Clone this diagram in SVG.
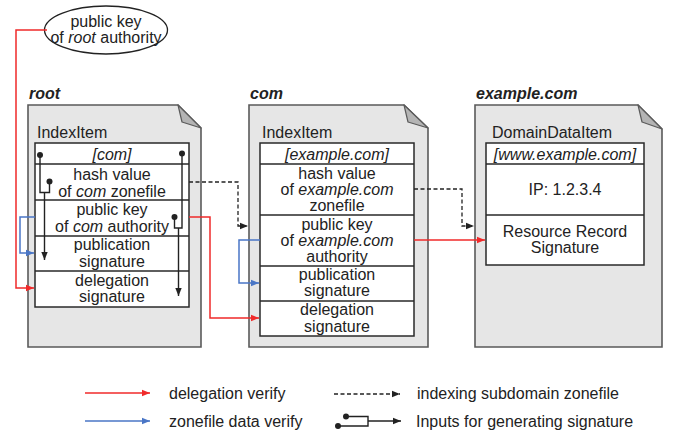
<svg xmlns="http://www.w3.org/2000/svg" width="675" height="436" viewBox="0 0 675 436">
  <defs>
    <marker id="arrow-black" markerUnits="userSpaceOnUse" markerWidth="9" markerHeight="8" refX="8" refY="4" orient="auto">
      <path d="M0,0.8 L8,4 L0,7.2 Z" fill="#222"/>
    </marker>
    <marker id="arrow-red" markerUnits="userSpaceOnUse" markerWidth="9" markerHeight="8" refX="8" refY="4" orient="auto">
      <path d="M0,0.8 L8,4 L0,7.2 Z" fill="#f02a2a"/>
    </marker>
    <marker id="arrow-blue" markerUnits="userSpaceOnUse" markerWidth="9" markerHeight="8" refX="8" refY="4" orient="auto">
      <path d="M0,0.8 L8,4 L0,7.2 Z" fill="#4a76c6"/>
    </marker>
  </defs>
  <style>
    text { font-family: "Liberation Sans", Arial, sans-serif; font-size: 16px; fill: #222; }
    .c { text-anchor: middle; }
    .title { font-weight: bold; font-style: italic; }
    .it { font-style: italic; }
    .doc { fill: #e6e6e6; stroke: #5a5a5a; stroke-width: 1.6; }
    .flap { fill: #b4b4b4; stroke: #5a5a5a; stroke-width: 1.2; stroke-linejoin: round; }
    .tbl { fill: #fff; stroke: #2a2a2a; stroke-width: 1.5; }
    .row { stroke: #2a2a2a; stroke-width: 1.5; }
    .red { fill: none; stroke: #f02a2a; stroke-width: 1.5; marker-end: url(#arrow-red); }
    .blue { fill: none; stroke: #4a76c6; stroke-width: 1.5; marker-end: url(#arrow-blue); }
    .dash { fill: none; stroke: #222; stroke-width: 1.3; stroke-dasharray: 4 2.5; marker-end: url(#arrow-black); }
    .inp { fill: none; stroke: #222; stroke-width: 1.4; }
    .inpa { fill: none; stroke: #222; stroke-width: 1.4; marker-end: url(#arrow-black); }
    .dot { fill: #222; }
  </style>

  <!-- trust anchor -->
  <g id="root-key">
    <ellipse cx="106" cy="30" rx="61.5" ry="24" fill="#fff" stroke="#222" stroke-width="1.3"/>
    <text class="c" x="106" y="27">public key</text>
    <text class="c" x="106" y="43">of <tspan class="it">root</tspan> authority</text>
  </g>

  <!-- root zone document -->
  <g id="root">
    <text class="title" x="29" y="99">root</text>
    <path class="doc" d="M28,105 H178 L201,128 V347 H28 Z"/>
    <path class="flap" d="M178,105 L182,122 L201,128 Z"/>
    <text x="37" y="138">IndexItem</text>
    <rect class="tbl" x="35" y="143" width="154" height="164"/>
    <path class="row" d="M35,164 H189 M35,200 H189 M35,236 H189 M35,271 H189"/>
    <text class="c it" x="112" y="160">[com]</text>
    <text class="c" x="112" y="180">hash value</text>
    <text class="c" x="112" y="197">of <tspan class="it">com</tspan> zonefile</text>
    <text class="c" x="112" y="215">public key</text>
    <text class="c" x="112" y="232">of <tspan class="it">com</tspan> authority</text>
    <text class="c" x="112" y="250">publication</text>
    <text class="c" x="112" y="267">signature</text>
    <text class="c" x="112" y="286">delegation</text>
    <text class="c" x="112" y="302">signature</text>
  </g>

  <!-- com zone document -->
  <g id="com">
    <text class="title" x="250" y="99">com</text>
    <path class="doc" d="M249,105 H404 L428,128 V347 H249 Z"/>
    <path class="flap" d="M404,105 L408,122 L428,128 Z"/>
    <text x="262" y="138">IndexItem</text>
    <rect class="tbl" x="260" y="143" width="154" height="193"/>
    <path class="row" d="M260,164 H414 M260,215 H414 M260,266 H414 M260,301 H414"/>
    <text class="c it" x="337" y="160">[example.com]</text>
    <text class="c" x="337" y="179">hash value</text>
    <text class="c" x="337" y="195">of <tspan class="it">example.com</tspan></text>
    <text class="c" x="337" y="211">zonefile</text>
    <text class="c" x="337" y="230">public key</text>
    <text class="c" x="337" y="246">of <tspan class="it">example.com</tspan></text>
    <text class="c" x="337" y="262">authority</text>
    <text class="c" x="337" y="280">publication</text>
    <text class="c" x="337" y="296">signature</text>
    <text class="c" x="337" y="315">delegation</text>
    <text class="c" x="337" y="332">signature</text>
  </g>

  <!-- example.com zone document -->
  <g id="example-com">
    <text class="title" x="476" y="99">example.com</text>
    <path class="doc" d="M475,105 H638 L662,129 V347 H475 Z"/>
    <path class="flap" d="M638,105 L642,122 L662,129 Z"/>
    <text x="492" y="138">DomainDataItem</text>
    <rect class="tbl" x="486" y="143" width="158" height="122"/>
    <path class="row" d="M486,164 H644 M486,215 H644"/>
    <text class="c it" x="565" y="160">[www.example.com]</text>
    <text class="c" x="565" y="195">IP: 1.2.3.4</text>
    <text class="c" x="565" y="237">Resource Record</text>
    <text class="c" x="565" y="253">Signature</text>
  </g>

  <!-- connectors -->
  <g id="connectors">
    <!-- delegation verify -->
    <path class="red" d="M47,30 H16 V288 H34"/>
    <path class="red" d="M189,217 H210 V318 H259"/>
    <path class="red" d="M414,240 H485"/>
    <!-- zonefile data verify -->
    <path class="blue" d="M35,217 H20 V253 H34"/>
    <path class="blue" d="M260,240 H239 V283 H259"/>
    <!-- indexing subdomain zonefile -->
    <path class="dash" d="M189,182 H238 V226 H248"/>
    <path class="dash" d="M414,189 H462 V226 H474"/>
    <!-- signature inputs: publication signature -->
    <circle class="dot" cx="40" cy="155" r="3"/>
    <circle class="dot" cx="49.5" cy="181.5" r="3"/>
    <path class="inp" d="M40,155 V192.5 H49.5 V181.5"/>
    <path class="inpa" d="M44.5,192.5 V260"/>
    <!-- signature inputs: delegation signature -->
    <circle class="dot" cx="182" cy="153.5" r="3"/>
    <circle class="dot" cx="174.5" cy="217" r="3"/>
    <path class="inp" d="M182,153.5 V228 H174.5 V217"/>
    <path class="inpa" d="M178.5,228 V296"/>
  </g>

  <!-- legend -->
  <g id="legend">
    <path class="red" d="M85,393 H150"/>
    <text x="169" y="399">delegation verify</text>
    <path class="blue" d="M85,421 H150"/>
    <text x="169" y="427">zonefile data verify</text>
    <path class="dash" d="M334,394 H400"/>
    <text x="417" y="399">indexing subdomain zonefile</text>
    <circle class="dot" cx="346" cy="416.5" r="3"/>
    <circle class="dot" cx="338" cy="426" r="3"/>
    <path class="inp" d="M346,416.5 H368 V426 H338"/>
    <path class="inpa" d="M368,421 H401"/>
    <text x="416" y="427">Inputs for generating signature</text>
  </g>
</svg>
